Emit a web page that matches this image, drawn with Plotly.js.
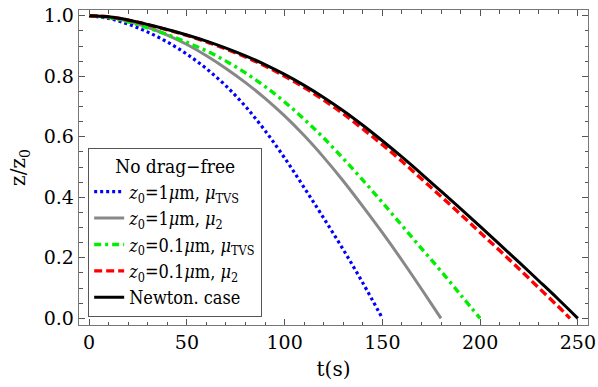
<!DOCTYPE html>
<html>
<head>
<meta charset="utf-8">
<script src="https://cdn.plot.ly/plotly-3.0.1.min.js"></script>
<style>html,body{margin:0;padding:0;background:#fff;}#chart{width:598px;height:387px;}</style>
</head>
<body>
<div id="chart"></div>
<script>
const tBlue  = [0,10,20,30,40,50,60,70,80,90,100,110,120,130,140,150];
const zBlue  = [1,0.991,0.972,0.946,0.913,0.873,0.825,0.768,0.700,0.620,0.530,0.432,0.331,0.227,0.117,0];
const tGray  = [0,10,20,30,40,50,60,70,80,90,100,110,120,130,140,150,160,170,180];
const zGray  = [1,0.995,0.982,0.962,0.936,0.905,0.868,0.826,0.779,0.727,0.669,0.604,0.532,0.454,0.370,0.283,0.192,0.097,0];
const tGreen = [0,10,20,30,40,50,60,70,80,90,100,110,120,130,140,150,160,170,180,190,200];
const zGreen = [1,0.994,0.980,0.960,0.938,0.912,0.884,0.850,0.811,0.766,0.715,0.658,0.596,0.528,0.457,0.383,0.307,0.231,0.156,0.078,0];
const tRed   = [0,10,20,30,40,50,60,70,80,90,100,110,120,130,140,150,160,170,180,190,200,210,220,230,240,246];
const zRed   = [1,0.9964,0.9856,0.9704,0.9535,0.935,0.914,0.890,0.864,0.834,0.800,0.763,0.721,0.676,0.626,0.574,0.519,0.461,0.403,0.344,0.284,0.224,0.163,0.101,0.039,0];
const tBlack = [0,10,20,30,40,50,60,70,80,90,100,110,120,130,140,150,160,170,180,190,200,210,220,230,240,250];
const zBlack = [1,0.9965,0.986,0.9712,0.9547,0.9365,0.9162,0.8932,0.8675,0.8387,0.8062,0.770,0.730,0.686,0.638,0.5868,0.5333,0.4775,0.4202,0.3623,0.3037,0.2445,0.1847,0.1243,0.0632,0];

const names = [
  '<i>z</i><sub>0</sub>=1<i>μ</i>m, <i>μ</i><sub>TVS</sub>',
  '<i>z</i><sub>0</sub>=1<i>μ</i>m, <i>μ</i><sub>2</sub>',
  '<i>z</i><sub>0</sub>=0.1<i>μ</i>m, <i>μ</i><sub>TVS</sub>',
  '<i>z</i><sub>0</sub>=0.1<i>μ</i>m, <i>μ</i><sub>2</sub>',
  'Newton. case'
];
const legendTitle = 'No drag−free';
const xTicks = [0,50,100,150,200,250];
const yTicks = [0,0.2,0.4,0.6,0.8,1.0];

const fSerif = 'DejaVu Serif';
const fLeg = 'DejaVu Serif Condensed, DejaVu Serif';
const traces = [
  {x:tBlue, y:zBlue, name:names[0], line:{color:'#0000ff', width:3.2, dash:'3px,3px'}},
  {x:tGray, y:zGray, name:names[1], line:{color:'#888888', width:3}},
  {x:tGreen,y:zGreen,name:names[2], line:{color:'#00ee00', width:3.4, dash:'7px,4px,3px,4px'}},
  {x:tRed,  y:zRed,  name:names[3], line:{color:'#ff0000', width:3.4, dash:'8px,4px'}},
  {x:tBlack,y:zBlack,name:names[4], line:{color:'#000000', width:3}}
].map(t => Object.assign({type:'scatter', mode:'lines'}, t));
traces.forEach(t => t.line.shape = 'spline');

const axisCommon = {
  showgrid:false, zeroline:false, showline:true, mirror:'allticks',
  linecolor:'#777', linewidth:1.3, ticks:'inside', ticklen:6, tickwidth:1, tickcolor:'#555',
  tickfont:{family:fSerif, size:19, color:'#000'}
};
const layout = {
  width:598, height:387,
  margin:{l:79, r:10, t:10, b:62},
  paper_bgcolor:'#fff', plot_bgcolor:'#fff',
  font:{family:fSerif, color:'#000'},
  xaxis: Object.assign({}, axisCommon, {
    range:[-5.2,255.2], tickmode:'array', tickvals:xTicks, ticktext:xTicks.map(String),
    minor:{dtick:10, tick0:0, ticks:'inside', ticklen:3.5, tickcolor:'#555', showgrid:false},
    title:{text:'t(s)', font:{family:fSerif, size:20}, standoff:10}
  }),
  yaxis: Object.assign({}, axisCommon, {
    range:[-0.022,1.019], tickmode:'array', tickvals:yTicks, ticktext:yTicks.map(v=>v.toFixed(1)),
    minor:{dtick:0.05, tick0:0, ticks:'inside', ticklen:3.5, tickcolor:'#555', showgrid:false},
    title:{text:'z/z<sub>0</sub>', font:{family:fSerif, size:20}, standoff:12}
  }),
  showlegend:true,
  legend:{
    x:0.018, y:0.026, xanchor:'left', yanchor:'bottom',
    bgcolor:'#fff', bordercolor:'#555', borderwidth:1,
    font:{family:fLeg, size:18, color:'#000'},
    title:{text:legendTitle, side:'top center', font:{family:fLeg, size:19}},
    itemwidth:30
  }
};
Plotly.newPlot('chart', traces, layout, {staticPlot:true, displayModeBar:false});
</script>
</body>
</html>
